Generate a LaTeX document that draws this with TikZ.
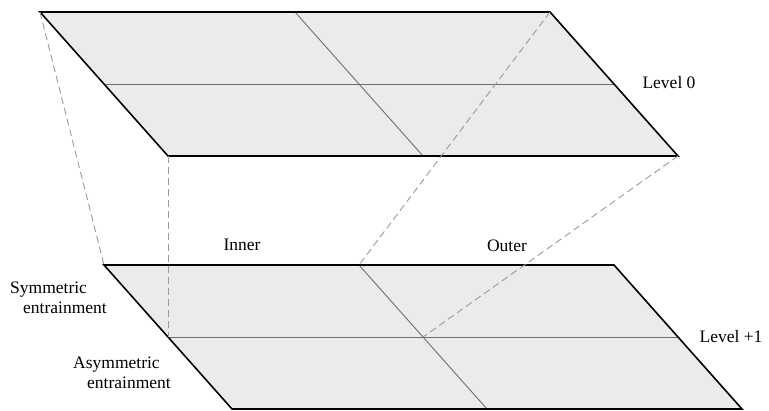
\documentclass[tikz,border=0pt]{standalone}
\usepackage{fontspec}
\setmainfont{Liberation Serif}
\definecolor{planegray}{HTML}{EBEBEB}
\definecolor{gridgray}{HTML}{6E6E6E}
\definecolor{linkgray}{HTML}{9A9A9A}
\begin{document}
\begin{tikzpicture}[x=1pt,y=-1pt,
  planefill/.style={fill=planegray},
  planeedge/.style={draw=black,line width=1.6pt,line join=miter},
  gridline/.style={draw=gridgray,line width=0.9pt},
  link/.style={draw=linkgray,dash pattern=on 7pt off 4pt,line width=0.9pt},
  lab/.style={font=\fontsize{17.5}{20}\selectfont,inner sep=0pt}]
\useasboundingbox (0,0) rectangle (769,410);
% Level +1 plane
\coordinate (b1) at (104,265);
\coordinate (b2) at (614,265);
\coordinate (b3) at (742,409);
\coordinate (b4) at (232,409);
\coordinate (bl) at (168,337);
\coordinate (br) at (678,337);
\coordinate (bt) at (359,265);
\coordinate (bb) at (487,409);
\coordinate (bc) at (423,337);
% Level 0 plane
\coordinate (t1) at (40,12);
\coordinate (t2) at (550,12);
\coordinate (t3) at (678,156);
\coordinate (t4) at (168,156);
\coordinate (tl) at (104,84);
\coordinate (tr) at (614,84);
\coordinate (tt) at (295,12);
\coordinate (tb) at (423,156);

\path[planefill] (b1) -- (b2) -- (b3) -- (b4) -- cycle;
\draw[gridline] (bl) -- (br);
\draw[gridline] (bt) -- (bb);
\draw[planeedge] (b1) -- (b2) -- (b3) -- (b4) -- cycle;

\path[planefill] (t1) -- (t2) -- (t3) -- (t4) -- cycle;
\draw[gridline] (tl) -- (tr);
\draw[gridline] (tt) -- (tb);
\draw[planeedge] (t1) -- (t2) -- (t3) -- (t4) -- cycle;

\draw[link] (t1) -- (b1);
\draw[link] (t4) -- (bl);
\draw[link] (t2) -- (bt);
\draw[link] (t3) -- (bc);

\node[lab] (lev0) at (669,83) {Level 0};
\node[lab] (lev1) at (731,337) {Level +1};
\node[lab] (inner) at (242,245) {Inner};
\node[lab] (outer) at (507,246) {Outer};
\node[lab,align=left,anchor=north west] (sym) at (10,282) {Symmetric\\\hspace{13pt}entrainment};
\node[lab,align=left,anchor=north west] (asym) at (73,357) {Asymmetric\\\hspace{14pt}entrainment};
\end{tikzpicture}
\end{document}
